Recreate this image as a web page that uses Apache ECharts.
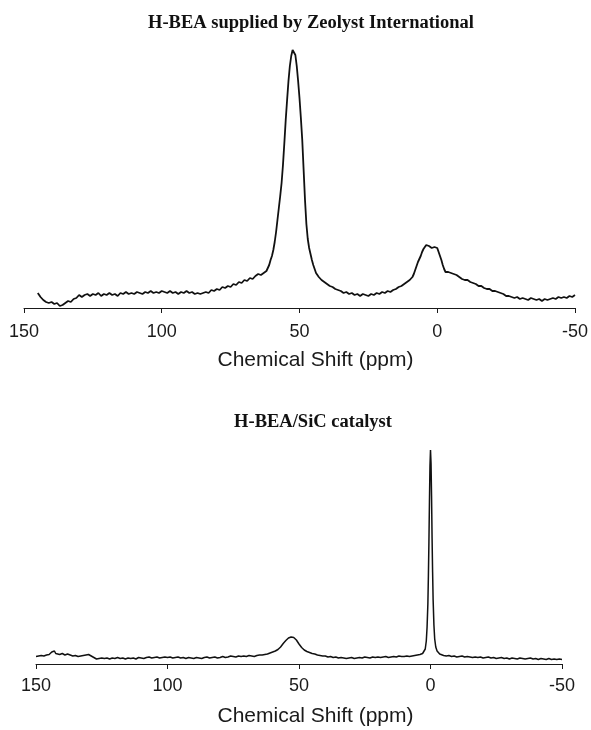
<!DOCTYPE html>
<html>
<head>
<meta charset="utf-8">
<script src="https://cdn.jsdelivr.net/npm/echarts@6/dist/echarts.min.js"></script>
<style>
  html, body { margin: 0; padding: 0; background: #fff; }
  #chart { width: 591px; height: 730px; }
</style>
</head>
<body>
<div id="chart"></div>
<script>
// Panel titles and axis range (ppm, plotted high to low)
const panelTitles = ['H-BEA supplied by Zeolyst International', 'H-BEA/SiC catalyst'];
const axisTitle = 'Chemical Shift (ppm)';
const shiftMin = -50;
const shiftMax = 150;
const shiftStep = 50;

// H-BEA supplied by Zeolyst International: chemical shift (ppm) and intensity (a.u.)
const topShift = [
  145, 144.5, 144, 143.5, 143, 142, 141, 140, 139, 138, 137, 136, 135, 134, 133, 132, 131, 130,
  129, 128, 127, 126, 125, 124, 123, 122, 121, 120, 119, 118, 117, 116, 115, 114, 113, 112, 111, 110,
  109, 108, 107, 106, 105, 104, 103, 102, 101, 100, 99, 98, 97, 96, 95, 94, 93, 92, 91, 90,
  89, 88, 87, 86, 85, 84, 83, 82, 81, 80, 79, 78, 77, 76, 75, 74, 73, 72, 71, 70,
  69, 68, 67, 66, 65, 64, 63, 62, 61.5, 61, 60.5, 60, 59.5, 59, 58.5, 58, 57.5, 57, 56.5, 56,
  55.5, 55, 54.5, 54, 53.5, 53, 52.5, 52.2, 52, 51.5, 51, 50.5, 50, 49.5, 49, 48.5, 48, 47.5, 47,
  46.5, 46, 45.5, 45, 44.5, 44, 43.5, 43, 42, 41, 40, 39, 38, 37, 36, 35, 34, 33, 32, 31, 30,
  29, 28, 27, 26, 25, 24, 23, 22, 21, 20, 19, 18, 17, 16, 15, 14, 13, 12, 11, 10,
  9, 8.5, 8, 7.5, 7, 6.5, 6, 5.5, 5, 4.5, 4, 3.5, 3, 2.5, 2, 1.5, 1, 0.5, 0,
  -0.5, -1, -1.5, -2, -2.5, -3, -3.5, -4, -4.5, -5, -5.5, -6, -6.5, -7, -7.5, -8, -9, -10,
  -11, -12, -13, -14, -15, -16, -17, -18, -19, -20, -21, -22, -23, -24, -25, -26, -27, -28, -29, -30,
  -31, -32, -33, -34, -35, -36, -37, -38, -39, -40, -41, -42, -43, -44, -45, -46, -47, -48, -49, -50
];
const topIntensity = [
  15, 13, 11, 9, 8, 6, 5, 6, 4, 5, 2, 3, 5, 7, 6, 9, 10, 13,
  11, 13, 14, 12, 14, 13, 15, 12, 14, 13, 15, 13, 14, 12, 15, 14, 16, 14, 15, 14,
  16, 15, 14, 16, 15, 17, 15, 16, 15, 17, 16, 15, 17, 15, 16, 14, 16, 15, 17, 15,
  16, 14, 15, 14, 15, 16, 15, 18, 17, 19, 18, 21, 20, 22, 21, 24, 23, 26, 25, 28,
  27, 30, 29, 32, 34, 33, 35, 37, 39, 43, 48, 52, 58, 66, 76, 88, 100, 112, 125, 143,
  165, 188, 208, 227, 242, 252, 258, 260, 259, 253, 242, 227, 210, 190, 168, 138, 108, 84, 69,
  60, 54, 48, 43, 39, 35, 33, 31, 28, 26, 24, 22, 21, 19, 18, 17, 15, 16, 14, 15, 13,
  14, 12, 14, 13, 12, 14, 13, 15, 14, 16, 15, 17, 16, 18, 19, 21, 22, 24, 26, 28,
  31, 34, 38, 42, 46, 49, 52, 56, 59, 61, 63, 63, 62, 62, 60, 59, 61, 62, 60,
  56, 52, 48, 43, 39, 36, 35, 36, 34, 35, 33, 34, 32, 33, 31, 31, 29, 28,
  28, 26, 25, 24, 22, 22, 20, 19, 19, 17, 17, 16, 15, 14, 12, 12, 11, 10, 11, 9,
  10, 9, 8, 10, 9, 8, 9, 7, 9, 8, 9, 10, 9, 11, 10, 11, 10, 12, 11, 13
];

// H-BEA/SiC catalyst: chemical shift (ppm) and intensity (a.u.)
const bottomShift = [
  150, 149, 148, 147, 146, 145, 144.5, 144, 143.5, 143, 142.5, 142, 141, 140, 139, 138, 137, 136, 135, 134,
  133, 132, 131, 130, 129, 128, 127, 126, 125, 124, 123, 122, 121, 120, 119, 118, 117, 116, 115, 114,
  113, 112, 111, 110, 109, 108, 107, 106, 105, 104, 103, 102, 101, 100, 99, 98, 97, 96, 95, 94,
  93, 92, 91, 90, 89, 88, 87, 86, 85, 84, 83, 82, 81, 80, 79, 78, 77, 76, 75, 74,
  73, 72, 71, 70, 69, 68, 67, 66, 65, 64, 63, 62, 61, 60, 59, 58, 57, 56, 55, 54,
  53, 52, 51, 50, 49, 48, 47, 46, 45, 44, 43, 42, 41, 40, 39, 38, 37, 36, 35, 34,
  33, 32, 31, 30, 29, 28, 27, 26, 25, 24, 23, 22, 21, 20, 19, 18, 17, 16, 15, 14,
  13, 12, 11, 10, 9, 8, 7, 6, 5, 4, 3, 2.5, 2, 1.6, 1.3, 1, 0.8, 0.6, 0.4, 0.2, 0,
  -0.2, -0.4, -0.6, -0.8, -1, -1.3, -1.6, -2, -2.5, -3, -3.5, -4, -5, -6, -7, -8, -9, -10,
  -11, -12, -13, -14, -15, -16, -17, -18, -19, -20, -21, -22, -23, -24, -25, -26, -27, -28, -29, -30,
  -31, -32, -33, -34, -35, -36, -37, -38, -39, -40, -41, -42, -43, -44, -45, -46, -47, -48, -49, -50
];
const bottomIntensity = [
  7.5, 8, 8.5, 8, 9, 9.5, 10.5, 12, 14, 13, 10.5, 9, 9.5, 10.5, 9, 10, 9, 8, 8.5, 7.5,
  8, 8.5, 9, 9.5, 8, 6.5, 5, 5.5, 6, 5.5, 6, 5, 6, 5.5, 6.5, 5.5, 6, 5, 6, 5.5,
  6, 5, 6.5, 6, 5.5, 6.5, 7, 6, 6.5, 7, 6, 6.5, 7, 6.5, 7, 6, 6.5, 7, 6, 6.5,
  5.5, 6.5, 6, 5.5, 6.5, 6, 5.5, 6.5, 7, 6, 6.5, 7, 6, 6.5, 7.5, 6.5, 7, 8, 7.5, 7,
  8, 7.5, 8, 7.5, 8.5, 8, 7.5, 8.5, 9, 9, 9.5, 10, 11, 12, 13, 14.5, 17, 20.5, 23.5, 26,
  27, 26.5, 24, 20, 16.5, 14, 12.5, 11.5, 10.5, 10, 9, 8.5, 8, 8, 7, 7.5, 6.5, 7, 6, 6.5,
  6, 5.5, 6, 6.5, 5.5, 6, 6.5, 6, 7, 6.5, 6, 7, 6.5, 7, 6.5, 7, 7.5, 6.5, 7, 7.5,
  7, 8, 7.5, 7.5, 8, 7.5, 8, 8.5, 9, 9.5, 10.5, 12, 15, 23, 37, 60, 88, 122, 162, 198, 214,
  201, 168, 126, 92, 64, 39, 25, 17, 13, 11, 10, 9, 8.5, 8, 8.5, 7.5, 8, 7,
  7.5, 8, 7, 7.5, 7, 6.5, 7, 6.5, 7, 6, 6.5, 7, 6, 6.5, 5.5, 6, 6.5, 5.5, 6, 5,
  6, 5.5, 5, 6, 5.5, 5, 5.5, 6, 5, 5.5, 4.5, 5.5, 5, 4.5, 5.5, 4.5, 5, 4.5, 5, 4.5
];

const zip = (xs, ys) => xs.map((x, i) => [x, ys[i]]);

const ink = '#1a1a1a';
const sansFont = '"Liberation Sans", Arial, Helvetica, sans-serif';
const serifFont = '"Liberation Serif", "Times New Roman", Times, serif';

function shiftAxis(gridIndex, nameShift, labelMargin) {
  return {
    type: 'value',
    gridIndex: gridIndex,
    inverse: true,
    min: shiftMin,
    max: shiftMax,
    interval: shiftStep,
    name: axisTitle,
    nameLocation: 'middle',
    nameGap: 42,
    nameTextStyle: {
      color: ink,
      fontFamily: sansFont,
      fontSize: 21,
      padding: [0, 0, 0, nameShift]
    },
    axisLine: { show: true, onZero: false, lineStyle: { color: ink, width: 1 } },
    axisTick: { show: true, length: 5, lineStyle: { color: ink, width: 1 } },
    axisLabel: { color: ink, fontFamily: sansFont, fontSize: 18, margin: labelMargin },
    splitLine: { show: false }
  };
}

const chart = echarts.init(document.getElementById('chart'), null, { renderer: 'canvas' });
chart.setOption({
  animation: false,
  backgroundColor: '#ffffff',
  title: [
    {
      text: panelTitles[0],
      left: 311,
      top: 14,
      textAlign: 'center',
      padding: 0,
      textStyle: { fontFamily: serifFont, fontWeight: 'bold', fontSize: 18.5, color: '#111' }
    },
    {
      text: panelTitles[1],
      left: 313,
      top: 413,
      textAlign: 'center',
      padding: 0,
      textStyle: { fontFamily: serifFont, fontWeight: 'bold', fontSize: 18.5, color: '#111' }
    }
  ],
  grid: [
    { left: 24, right: 16, top: 40, bottom: 422, containLabel: false },
    { left: 36, right: 29, top: 440, bottom: 66, containLabel: false }
  ],
  xAxis: [shiftAxis(0, 32, 15), shiftAxis(1, 33, 13)],
  yAxis: [
    { type: 'value', gridIndex: 0, min: 0, max: 268, show: false },
    { type: 'value', gridIndex: 1, min: 0, max: 224, show: false }
  ],
  series: [
    {
      type: 'line',
      xAxisIndex: 0,
      yAxisIndex: 0,
      data: zip(topShift, topIntensity),
      showSymbol: false,
      symbol: 'none',
      clip: false,
      lineStyle: { color: '#111', width: 1.8 }
    },
    {
      type: 'line',
      xAxisIndex: 1,
      yAxisIndex: 1,
      data: zip(bottomShift, bottomIntensity),
      showSymbol: false,
      symbol: 'none',
      clip: false,
      lineStyle: { color: '#111', width: 1.5 }
    }
  ]
});
</script>
</body>
</html>
